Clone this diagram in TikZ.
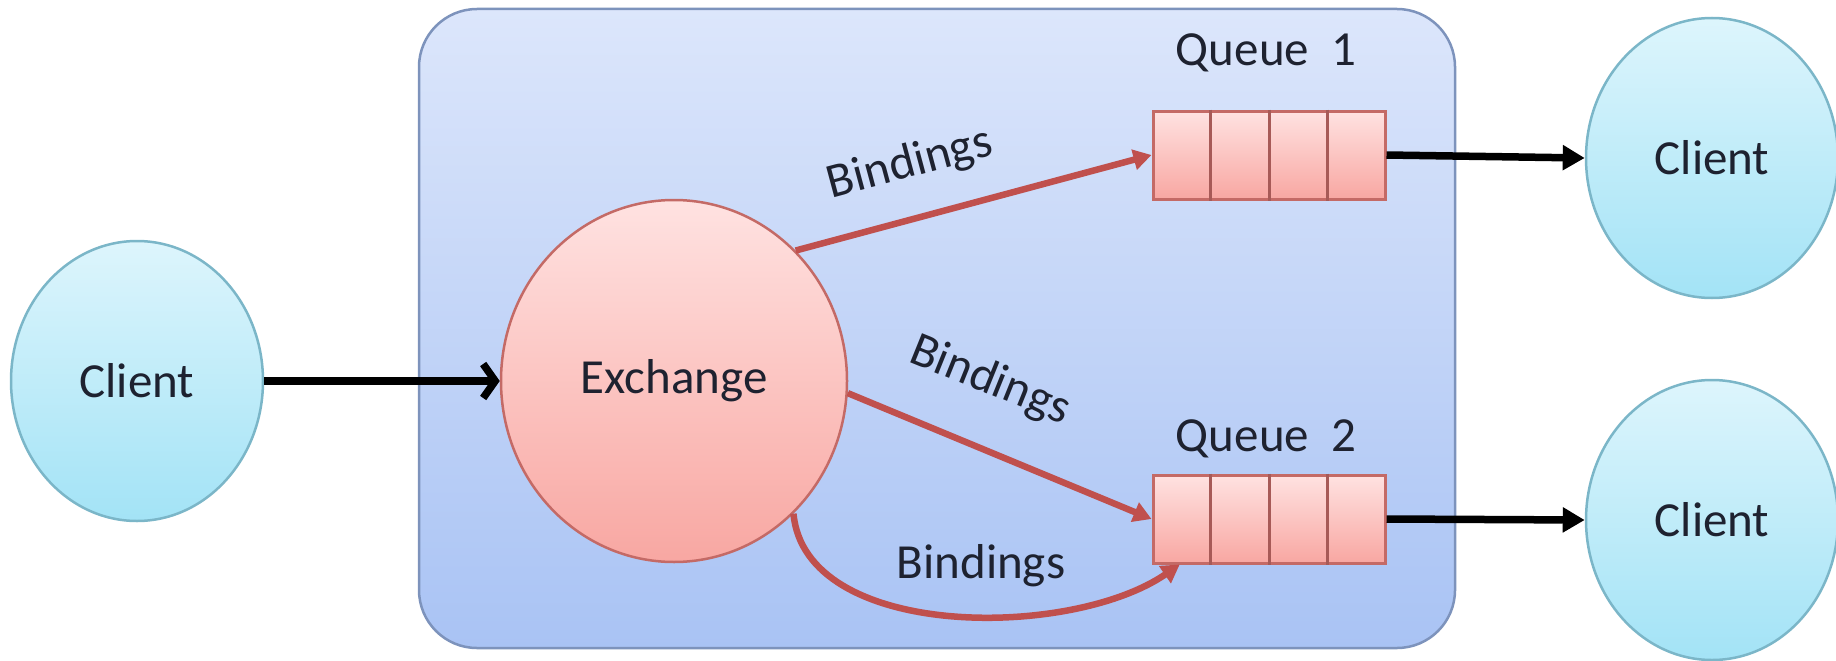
\documentclass[tikz,border=0pt]{standalone}
\usepackage{fontspec}
\setmainfont{Carlito}
\usetikzlibrary{arrows.meta,shapes.geometric,calc}

\definecolor{brokertop}{HTML}{DCE6FB}
\definecolor{brokerbot}{HTML}{A9C3F4}
\definecolor{brokerline}{HTML}{7D93BC}
\definecolor{clienttop}{HTML}{DDF5FC}
\definecolor{clientbot}{HTML}{A3E3F6}
\definecolor{clientline}{HTML}{7BB6C8}
\definecolor{pinktop}{HTML}{FFE2E1}
\definecolor{pinkbot}{HTML}{F8A7A2}
\definecolor{pinkline}{HTML}{C46A66}
\definecolor{bindred}{HTML}{C0504D}
\definecolor{inktext}{HTML}{1E2230}

\tikzset{
  label font/.style={font=\fontsize{49}{57}\selectfont, text=inktext},
  broker/.style={rectangle, rounded corners=58pt, draw=brokerline, line width=2.5pt,
    top color=brokertop, bottom color=brokerbot, inner sep=0pt},
  client/.style={ellipse, draw=clientline, line width=2.5pt, inner sep=0pt,
    top color=clienttop, bottom color=clientbot,
    minimum width=252pt, minimum height=280pt, label font},
  exchange/.style={ellipse, draw=pinkline, line width=2.5pt, inner sep=0pt,
    top color=pinktop, bottom color=pinkbot,
    minimum width=346pt, minimum height=362pt, label font},
  queuebox/.style={rectangle, draw=pinkline, line width=3pt, inner sep=0pt,
    top color=pinktop, bottom color=pinkbot,
    minimum width=232pt, minimum height=88pt},
  cellline/.style={draw=pinkline!85!black, line width=3pt},
  flow/.style={line width=7.5pt, draw=black,
    -{Triangle[length=22pt, width=24pt]}},
  inflow/.style={line width=7.5pt, draw=black,
    -{Straight Barb[length=12pt, width=34pt]}},
  binding/.style={line width=6.5pt, draw=bindred,
    -{Triangle[length=18pt, width=20pt]}},
  tag/.style={label font, inner sep=0pt},
}

\begin{document}
\begin{tikzpicture}[x=1pt, y=-1pt]
  \useasboundingbox (0,0) rectangle (1836,661);

  % broker box
  \node (broker) [broker, minimum width=1036pt, minimum height=639pt] at (937,328.5) {};

  % clients, exchange and queues
  \node (clientin) [client] at (137,381) {Client};
  \node (ex) [exchange] at (674,381) {Exchange};
  \node (q1) [queuebox] at (1269,155) {};
  \node (q2) [queuebox] at (1269,519) {};
  \foreach \q in {q1,q2}{
    \foreach \f in {0.25,0.5,0.75}{
      \draw[cellline] ($(\q.north west)!\f!(\q.north east)$) -- ($(\q.south west)!\f!(\q.south east)$);
    }
  }
  \node (q1name) [tag] at (1266,53) {Queue\ \ 1};
  \node (q2name) [tag] at (1266,439) {Queue\ \ 2};
  \node (clientout1) [client] at (1712,158) {Client};
  \node (clientout2) [client] at (1712,520) {Client};

  % message flow
  \draw[inflow] (clientin.east) -- (ex.west);
  \draw[flow] (q1.east) -- (clientout1.west);
  \draw[flow] (q2.east) -- (clientout2.west);

  % bindings
  \draw[binding] (ex.47) -- (q1.west);
  \draw[binding] (ex.-4) -- (q2.west);
  \coordinate (q2foot) at ($(q2.south west)!0.12!(q2.south east)$);
  \draw[binding] (ex.-48) .. controls (805,640) and (1070,640) .. (q2foot);

  \node (bind1) [tag, rotate=15] at (910,164) {Bindings};
  \node (bind2) [tag, rotate=-22] at (990,381) {Bindings};
  \node (bind3) [tag] at (981,566) {Bindings};
\end{tikzpicture}
\end{document}
